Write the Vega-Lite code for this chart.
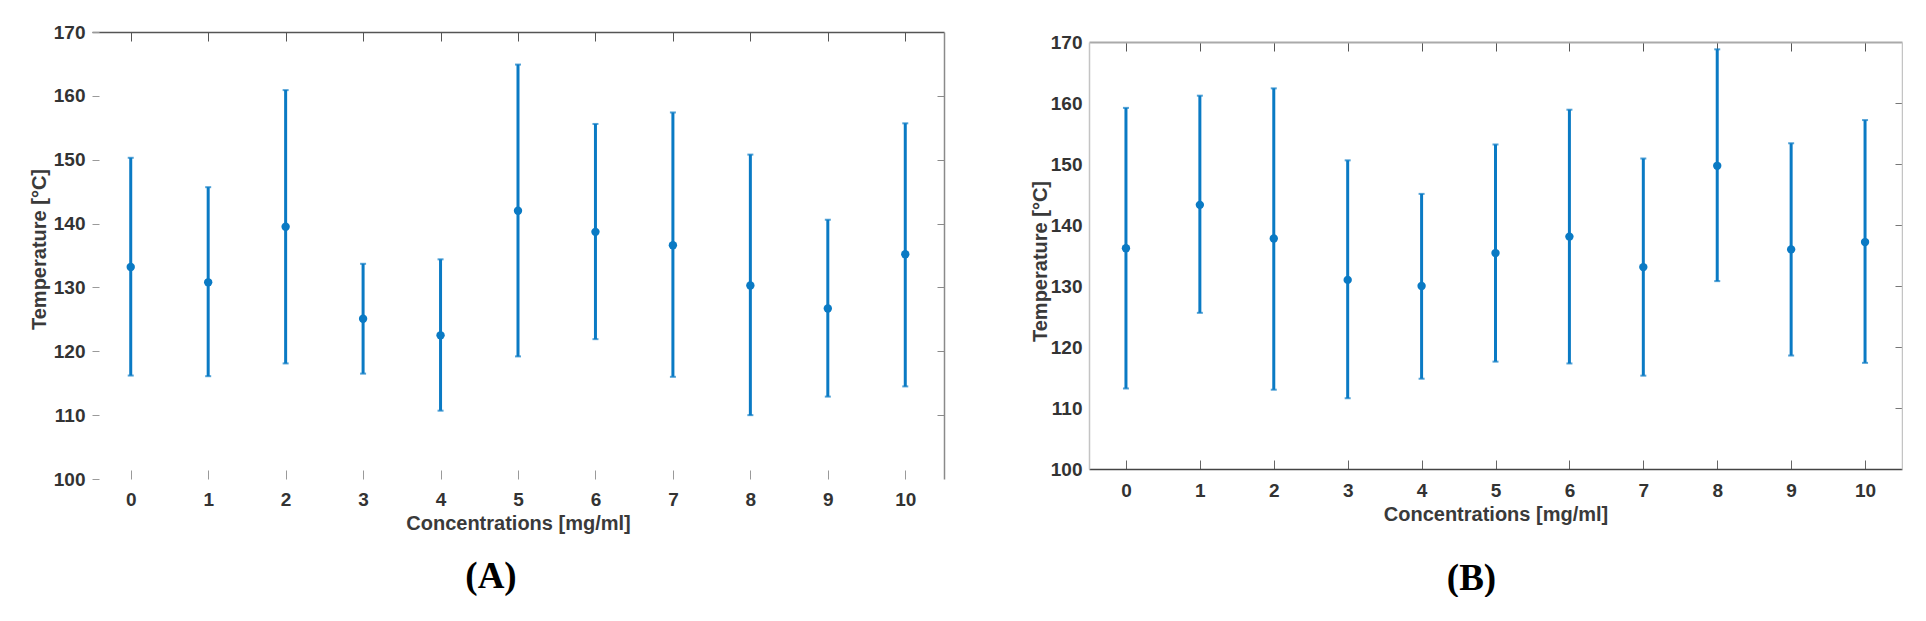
{
  "$schema": "https://vega.github.io/schema/vega-lite/v6.json",
  "background": "white",
  "padding": {"left": 29, "top": 23, "right": 0, "bottom": 0},
  "bounds": "flush",
  "center": true,
  "spacing": 145,
  "config": {"view": {"stroke": null}, "font": "Liberation Sans"},
  "datasets": {
    "A": [
      {"c": 0, "lo": 116.2, "mean": 133.2, "hi": 150.3},
      {"c": 1, "lo": 116.1, "mean": 130.8, "hi": 145.7},
      {"c": 2, "lo": 118.1, "mean": 139.5, "hi": 160.9},
      {"c": 3, "lo": 116.5, "mean": 125.1, "hi": 133.7},
      {"c": 4, "lo": 110.7, "mean": 122.5, "hi": 134.4},
      {"c": 5, "lo": 119.2, "mean": 142.0, "hi": 164.9},
      {"c": 6, "lo": 121.9, "mean": 138.7, "hi": 155.6},
      {"c": 7, "lo": 116.0, "mean": 136.6, "hi": 157.4},
      {"c": 8, "lo": 110.0, "mean": 130.3, "hi": 150.8},
      {"c": 9, "lo": 112.9, "mean": 126.7, "hi": 140.6},
      {"c": 10, "lo": 114.5, "mean": 135.2, "hi": 155.7}
    ],
    "B": [
      {"c": 0, "lo": 113.2, "mean": 136.2, "hi": 159.2},
      {"c": 1, "lo": 125.6, "mean": 143.3, "hi": 161.2},
      {"c": 2, "lo": 113.0, "mean": 137.8, "hi": 162.4},
      {"c": 3, "lo": 111.6, "mean": 131.0, "hi": 150.6},
      {"c": 4, "lo": 114.8, "mean": 130.0, "hi": 145.1},
      {"c": 5, "lo": 117.6, "mean": 135.4, "hi": 153.2},
      {"c": 6, "lo": 117.3, "mean": 138.1, "hi": 158.9},
      {"c": 7, "lo": 115.3, "mean": 133.1, "hi": 150.9},
      {"c": 8, "lo": 130.8, "mean": 149.7, "hi": 168.8},
      {"c": 9, "lo": 118.6, "mean": 136.0, "hi": 153.4},
      {"c": 10, "lo": 117.4, "mean": 137.2, "hi": 157.2}
    ]
  },
  "hconcat": [
    {
      "width": 852,
      "height": 447,
      "data": {"name": "A"},
      "title": {"text": "(A)", "orient": "bottom", "font": "Liberation Serif", "fontSize": 37, "fontWeight": "bold", "color": "#000000", "dx": -27, "offset": 26, "frame": "group"},
      "resolve": {"axis": {"x": "independent", "y": "independent"}},
      "layer": [
        {
          "mark": {"type": "rule", "color": "#0a7ac4", "strokeWidth": 3},
          "encoding": {
            "x": {"field": "c", "type": "quantitative", "scale": {"domain": [-0.5, 10.5], "nice": false, "zero": false},
              "axis": {"orient": "bottom", "values": [0,1,2,3,4,5,6,7,8,9,10], "grid": false, "domain": false, "tickSize": -9, "tickColor": "#9a9a9a", "tickWidth": 1, "labelPadding": 20, "labelFontSize": 19, "labelFontWeight": "bold", "labelColor": "#333333", "labelFlush": false, "title": "Concentrations [mg/ml]", "titleFontSize": 20, "titleFontWeight": "bold", "titleColor": "#3a3a3a", "titleY": 44, "titleBaseline": "middle"}},
            "y": {"field": "lo", "type": "quantitative", "scale": {"domain": [100, 170], "nice": false, "zero": false},
              "axis": {"orient": "left", "values": [100,110,120,130,140,150,160,170], "grid": false, "domain": false, "tickSize": -7, "tickColor": "#9a9a9a", "tickWidth": 1, "labelPadding": 14, "labelFontSize": 19, "labelFontWeight": "bold", "labelColor": "#333333", "labelFlush": false, "title": "Temperature [°C]", "titleFontSize": 20, "titleFontWeight": "bold", "titleColor": "#3a3a3a", "titleAngle": 270, "titleX": -53, "titleY": 217, "titleBaseline": "middle"}},
            "y2": {"field": "hi"}
          }
        },
        {
          "mark": {"type": "tick", "orient": "horizontal", "color": "#0a7ac4", "size": 6, "thickness": 2},
          "encoding": {
            "x": {"field": "c", "type": "quantitative", "axis": {"orient": "top", "values": [0,1,2,3,4,5,6,7,8,9,10], "grid": false, "domain": true, "domainColor": "#555555", "domainWidth": 1.5, "tickSize": -9, "tickColor": "#555555", "tickWidth": 1, "labels": false, "title": null}},
            "y": {"field": "hi", "type": "quantitative", "axis": {"orient": "right", "values": [110,120,130,140,150,160], "grid": false, "domain": true, "domainColor": "#8a8a8a", "domainWidth": 1.5, "tickSize": -7, "tickColor": "#8a8a8a", "tickWidth": 1, "labels": false, "title": null}}
          }
        },
        {
          "mark": {"type": "tick", "orient": "horizontal", "color": "#0a7ac4", "size": 6, "thickness": 2},
          "encoding": {
            "x": {"field": "c", "type": "quantitative", "axis": null},
            "y": {"field": "lo", "type": "quantitative", "axis": null}
          }
        },
        {
          "mark": {"type": "point", "filled": true, "opacity": 1, "color": "#0a7ac4", "size": 70},
          "encoding": {
            "x": {"field": "c", "type": "quantitative", "axis": null},
            "y": {"field": "mean", "type": "quantitative", "axis": null}
          }
        }
      ]
    },
    {
      "width": 813,
      "height": 427,
      "data": {"name": "B"},
      "title": {"text": "(B)", "orient": "bottom", "font": "Liberation Serif", "fontSize": 37, "fontWeight": "bold", "color": "#000000", "dx": -24, "offset": 37, "frame": "group"},
      "resolve": {"axis": {"x": "independent", "y": "independent"}},
      "layer": [
        {
          "mark": {"type": "rule", "color": "#0a7ac4", "strokeWidth": 3},
          "encoding": {
            "x": {"field": "c", "type": "quantitative", "scale": {"domain": [-0.5, 10.5], "nice": false, "zero": false},
              "axis": {"orient": "bottom", "values": [0,1,2,3,4,5,6,7,8,9,10], "grid": false, "domain": true, "domainColor": "#444444", "domainWidth": 1.5, "tickSize": -9, "tickColor": "#666666", "tickWidth": 1, "labelPadding": 21, "labelFontSize": 19, "labelFontWeight": "bold", "labelColor": "#333333", "labelFlush": false, "title": "Concentrations [mg/ml]", "titleFontSize": 20, "titleFontWeight": "bold", "titleColor": "#3a3a3a", "titleY": 45, "titleBaseline": "middle"}},
            "y": {"field": "lo", "type": "quantitative", "scale": {"domain": [100, 170], "nice": false, "zero": false},
              "axis": {"orient": "left", "values": [100,110,120,130,140,150,160,170], "grid": false, "domain": true, "domainColor": "#c4c4c4", "domainWidth": 1.5, "ticks": false, "labelPadding": 7, "labelFontSize": 19, "labelFontWeight": "bold", "labelColor": "#333333", "labelFlush": false, "title": "Temperature [°C]", "titleFontSize": 20, "titleFontWeight": "bold", "titleColor": "#3a3a3a", "titleAngle": 270, "titleX": -49, "titleY": 219, "titleBaseline": "middle"}},
            "y2": {"field": "hi"}
          }
        },
        {
          "mark": {"type": "tick", "orient": "horizontal", "color": "#0a7ac4", "size": 6, "thickness": 2},
          "encoding": {
            "x": {"field": "c", "type": "quantitative", "axis": {"orient": "top", "values": [0,1,2,3,4,5,6,7,8,9,10], "grid": false, "domain": true, "domainColor": "#aaaaaa", "domainWidth": 2, "tickSize": -9, "tickColor": "#555555", "tickWidth": 1, "labels": false, "title": null}},
            "y": {"field": "hi", "type": "quantitative", "axis": {"orient": "right", "values": [110,120,130,140,150,160], "grid": false, "domain": true, "domainColor": "#c4c4c4", "domainWidth": 1.5, "tickSize": -7, "tickColor": "#777777", "tickWidth": 1, "labels": false, "title": null}}
          }
        },
        {
          "mark": {"type": "tick", "orient": "horizontal", "color": "#0a7ac4", "size": 6, "thickness": 2},
          "encoding": {
            "x": {"field": "c", "type": "quantitative", "axis": null},
            "y": {"field": "lo", "type": "quantitative", "axis": null}
          }
        },
        {
          "mark": {"type": "point", "filled": true, "opacity": 1, "color": "#0a7ac4", "size": 70},
          "encoding": {
            "x": {"field": "c", "type": "quantitative", "axis": null},
            "y": {"field": "mean", "type": "quantitative", "axis": null}
          }
        }
      ]
    }
  ]
}
